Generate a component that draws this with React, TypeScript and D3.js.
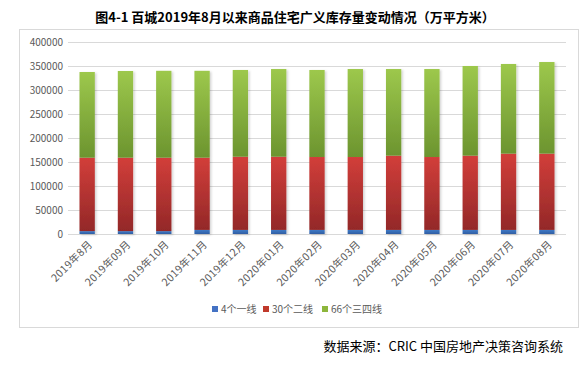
import * as d3 from "d3";

// chart size
const width = 588,
	height = 365;

const months = [
	"2019年8月",
	"2019年09月",
	"2019年10月",
	"2019年11月",
	"2019年12月",
	"2020年01月",
	"2020年02月",
	"2020年03月",
	"2020年04月",
	"2020年05月",
	"2020年06月",
	"2020年07月",
	"2020年08月",
];

// 万平方米
const tier1 = [6000, 6000, 6000, 8500, 8500, 8500, 8500, 8500, 8500, 8500, 8500, 8500, 8500];
const tier2 = [153000, 153000, 153000, 150500, 152500, 152500, 151900, 151900, 154700, 151900, 154700, 158900, 158900];
const tier34 = [178500, 180600, 181000, 181000, 180700, 182700, 181300, 183300, 180500, 183300, 186800, 186800, 190900];

const seriesNames = ["4个一线", "30个二线", "66个三四线"];
const yTicks = [0, 50000, 100000, 150000, 200000, 250000, 300000, 350000, 400000];

const colors = [
	["#4079C6", "#2E5EA3"],
	["#D23E3A", "#932828"],
	["#9DC84C", "#6C942F"],
];
const legendColors = ["#4472C4", "#C0392B", "#8DB63C"];

const font = "'Noto Sans CJK SC', 'Noto Sans', sans-serif";

export default function App() {
	const rows = months.map((m, i) => ({ month: m, t1: tier1[i], t2: tier2[i], t34: tier34[i] }));
	const stack = d3.stack().keys(["t1", "t2", "t34"])(rows as any);

	const x = d3.scaleBand().domain(months).range([68, 566]).paddingInner(0.6).paddingOuter(0.3);
	const y = d3.scaleLinear().domain([0, 400000]).range([234, 42]);

	return (
		<svg width={width} height={height} style={{ position: "absolute", left: 0, top: 0, background: "#fff" }}>
			<defs>
				{colors.map((c, i) => (
					<linearGradient key={i} id={`g${i}`} x1="0" y1="0" x2="0" y2="1">
						<stop offset="0%" stopColor={c[0]} />
						<stop offset="100%" stopColor={c[1]} />
					</linearGradient>
				))}
				<filter id="shadow" x="-20%" y="-5%" width="150%" height="115%">
					<feDropShadow dx="1.5" dy="1" stdDeviation="1" floodColor="#000" floodOpacity="0.18" />
				</filter>
			</defs>

			<text x={295} y={22} textAnchor="middle" fontFamily={font} fontSize={13} fontWeight="bold" fill="#000">
				图4-1 百城2019年8月以来商品住宅广义库存量变动情况（万平方米）
			</text>

			<rect x={19.5} y={29.5} width={559} height={298} fill="#fff" stroke="#D9D9D9" strokeWidth={1} />

			{/* grid + y axis */}
			{yTicks.map((t) => (
				<g key={t}>
					<line x1={68} x2={566} y1={Math.round(y(t)) + 0.5} y2={Math.round(y(t)) + 0.5} stroke="#D9D9D9" strokeWidth={1} />
					<text x={63} y={y(t)} dy="0.35em" textAnchor="end" fontFamily={font} fontSize={10} fill="#595959">
						{t}
					</text>
				</g>
			))}

			{/* bars */}
			{months.map((m, i) => (
				<g key={m} filter="url(#shadow)">
					{stack.map((s, k) => (
						<rect
							key={k}
							x={x(m)}
							width={x.bandwidth()}
							y={y(s[i][1])}
							height={y(s[i][0]) - y(s[i][1])}
							fill={`url(#g${k})`}
						/>
					))}
				</g>
			))}

			{/* x labels */}
			{months.map((m) => (
				<text
					key={m}
					transform={`translate(${x(m)! + x.bandwidth() / 2 + 6},${245}) rotate(-45)`}
					textAnchor="end"
					fontFamily={font}
					fontSize={10.5}
					letterSpacing={0.4}
					fill="#595959"
				>
					{m}
				</text>
			))}

			{/* legend */}
			{(() => {
				const starts = [212, 263, 322];
				return seriesNames.map((n, i) => (
					<g key={n} transform={`translate(${starts[i]},${309})`}>
						<rect x={0} y={-3} width={6} height={6} fill={legendColors[i]} />
						<text x={9} dy="0.35em" fontFamily={font} fontSize={10} fill="#595959">
							{n}
						</text>
					</g>
				));
			})()}

			<text x={563} y={351} textAnchor="end" fontFamily={font} fontSize={13} fill="#000">
				数据来源：CRIC 中国房地产决策咨询系统
			</text>
		</svg>
	);
}
